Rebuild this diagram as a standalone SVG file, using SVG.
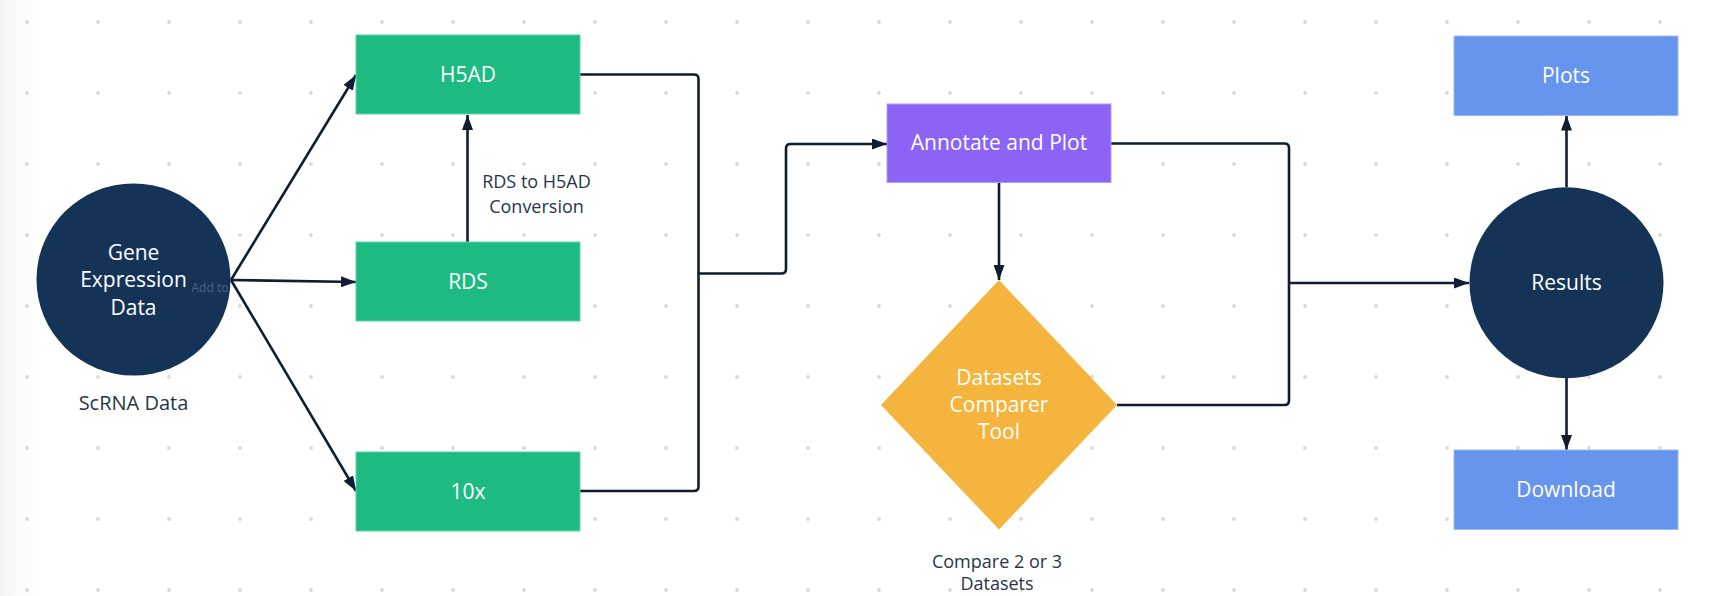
<svg xmlns="http://www.w3.org/2000/svg" width="1712" height="596" viewBox="0 0 1712 596">
<defs>
<style>
.lbl{font-family:"Open Sans","Noto Sans","Liberation Sans",sans-serif;font-size:21px;fill:#ffffff;text-anchor:middle}
.dark{font-family:"Open Sans","Noto Sans","Liberation Sans",sans-serif;font-size:18px;fill:#283548;text-anchor:middle}
.green{fill:#1DBB82;stroke:#5fd2a6;stroke-width:1}
.blue{fill:#6794EC;stroke:#9dbaf3;stroke-width:1}
.purple{fill:#8B63F5;stroke:#b39cf8;stroke-width:1}
.navy{fill:#143357}
.conn{fill:none;stroke:#0f1d31;stroke-width:2.6;stroke-linejoin:round}
</style>
<pattern id="dots" x="0" y="0" width="71" height="71" patternUnits="userSpaceOnUse">
<circle cx="27" cy="22" r="1.9" fill="#dadada"/>
</pattern>
<linearGradient id="edge" x1="0" y1="0" x2="1" y2="0">
<stop offset="0" stop-color="#000" stop-opacity="0.04"/>
<stop offset="0.5" stop-color="#000" stop-opacity="0.015"/>
<stop offset="1" stop-color="#000" stop-opacity="0"/>
</linearGradient>
<marker id="arr" markerUnits="userSpaceOnUse" markerWidth="15" markerHeight="11" viewBox="0 0 15 11" refX="15" refY="5.5" orient="auto">
<path d="M0,0 L15,5.5 L0,11 z" fill="#0f1d31"/>
</marker>
<clipPath id="c1"><ellipse cx="133.5" cy="279.5" rx="97" ry="96"/></clipPath>
</defs>
<rect width="1712" height="596" fill="#ffffff"/>
<rect width="1712" height="596" fill="url(#dots)"/>
<rect x="0" y="0" width="40" height="596" fill="url(#edge)"/>

<g id="connectors">
<line class="conn" x1="231" y1="280" x2="356" y2="75" marker-end="url(#arr)"/>
<line class="conn" x1="231" y1="280" x2="356" y2="282" marker-end="url(#arr)"/>
<line class="conn" x1="231" y1="280" x2="356" y2="491" marker-end="url(#arr)"/>
<line class="conn" x1="467.5" y1="242" x2="467.5" y2="115" marker-end="url(#arr)"/>
<path class="conn" d="M580,74.5 H694 Q698.5,74.5 698.5,79 V273.5"/>
<path class="conn" d="M580,491 H694 Q698.5,491 698.5,486.5 V273.5 H781.5 Q786,273.5 786,269 V148.5 Q786,144 790.5,144 H887" marker-end="url(#arr)"/>
<line class="conn" x1="999" y1="182.5" x2="999" y2="280" marker-end="url(#arr)"/>
<path class="conn" d="M1111,143.5 H1284.5 Q1289,143.5 1289,148 V283"/>
<path class="conn" d="M1117,405 H1284.5 Q1289,405 1289,400.5 V283 H1469" marker-end="url(#arr)"/>
<line class="conn" x1="1566.5" y1="187" x2="1566.5" y2="115.5" marker-end="url(#arr)"/>
<line class="conn" x1="1566.5" y1="378" x2="1566.5" y2="450" marker-end="url(#arr)"/>
</g>

<g id="gene-expression">
<ellipse class="navy" cx="133.5" cy="279.5" rx="97" ry="96"/>
<text class="lbl" x="133.5" y="259.5">Gene</text>
<text class="lbl" x="133.5" y="287">Expression</text>
<text class="lbl" x="133.5" y="314.5">Data</text>
<text clip-path="url(#c1)" x="191.5" y="291.5" font-family="Open Sans, sans-serif" font-size="12" fill="#4b6384">Add to</text>
<text class="dark" x="133.5" y="409.5" style="font-size:20px">ScRNA Data</text>
</g>

<g id="h5ad">
<rect class="green" x="356" y="35" width="224" height="79"/>
<text class="lbl" x="468" y="82">H5AD</text>
</g>

<g id="rds">
<rect class="green" x="356" y="242" width="224" height="79"/>
<text class="lbl" x="468" y="289">RDS</text>
</g>

<g id="rds-label">
<text class="dark" x="536.5" y="187.5">RDS to H5AD</text>
<text class="dark" x="536.5" y="212.5">Conversion</text>
</g>

<g id="tenx">
<rect class="green" x="356" y="452" width="224" height="79"/>
<text class="lbl" x="468" y="498.5">10x</text>
</g>

<g id="annotate">
<rect class="purple" x="887" y="104" width="224" height="78.5"/>
<text class="lbl" x="999" y="150">Annotate and Plot</text>
</g>

<g id="comparer">
<polygon points="999,280 1117,405 999,529.5 881,405" fill="#F4B43E"/>
<text class="lbl" x="999" y="384.5">Datasets</text>
<text class="lbl" x="999" y="411.5">Comparer</text>
<text class="lbl" x="999" y="439">Tool</text>
<text class="dark" x="997" y="567.5">Compare 2 or 3</text>
<text class="dark" x="997" y="589.5">Datasets</text>
</g>

<g id="results">
<ellipse class="navy" cx="1566.5" cy="282.8" rx="97" ry="95.5"/>
<text class="lbl" x="1566.5" y="290">Results</text>
</g>

<g id="plots">
<rect class="blue" x="1454" y="36" width="224" height="79.5"/>
<text class="lbl" x="1566" y="83">Plots</text>
</g>

<g id="download">
<rect class="blue" x="1454" y="450" width="224" height="79.5"/>
<text class="lbl" x="1566" y="497">Download</text>
</g>
</svg>
